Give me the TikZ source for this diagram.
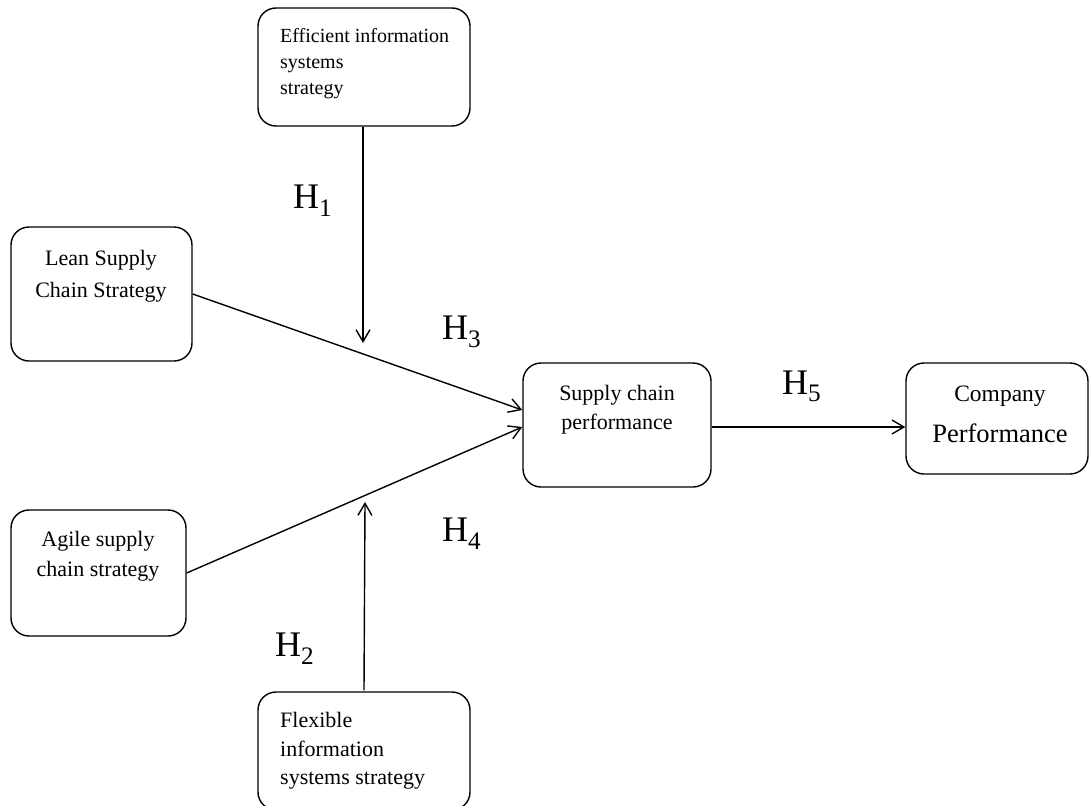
\documentclass[tikz,border=0pt]{standalone}
\usepackage{fontspec}
\setmainfont{Liberation Serif}
\usetikzlibrary{arrows.meta}
\begin{document}
\begin{tikzpicture}[x=1pt,y=-1pt,
  box/.style={draw, line width=1.4pt, rounded corners=18pt, minimum width=#1},
  txt/.style={inner sep=0pt, font=\fontsize{22}{30}\selectfont},
  hyp/.style={inner sep=0pt, anchor=base west, font=\fontsize{36}{40}\selectfont},
  link/.style={line width=1.4pt, -{Straight Barb[length=12pt,width=14pt,line width=1.4pt]}}
]
\useasboundingbox (0,0) rectangle (1090,806);
% boxes
\node[box=212pt, minimum height=118pt] (eff) at (364,67) {};
\node[box=181pt, minimum height=134pt] (lean) at (101.5,294) {};
\node[box=175pt, minimum height=126pt] (agile) at (98.5,573) {};
\node[box=212pt, minimum height=118pt] (flex) at (364,751) {};
\node[box=188pt, minimum height=124pt] (scp) at (617,425) {};
\node[box=182pt, minimum height=111pt] (comp) at (997,418.5) {};
% texts
\node[txt, anchor=west, align=left, font=\fontsize{20}{26}\selectfont] (teff) at (280,64) {Efficient information\\systems\\strategy};
\node[txt, align=center, font=\fontsize{22}{32}\selectfont] (tlean) at (101,276) {Lean Supply\\Chain Strategy};
\node[txt, align=center] (tagile) at (98,556) {Agile supply\\chain strategy};
\node[txt, anchor=west, align=left, font=\fontsize{22}{28.5}\selectfont] (tflex) at (280,751) {Flexible\\information\\systems strategy};
\node[txt, align=center, font=\fontsize{22}{29}\selectfont] (tscp) at (617,410) {Supply chain\\performance};
\node[txt, font=\fontsize{23.5}{28}\selectfont] (tcomp1) at (1000,396) {Company};
\node[txt, font=\fontsize{26.5}{30}\selectfont] (tcomp2) at (1000,433) {Performance};
% hypothesis labels
\node[hyp] (h1) at (293,208) {H\textsubscript{1}};
\node[hyp] (h3) at (442,339) {H\textsubscript{3}};
\node[hyp] (h5) at (782,394) {H\textsubscript{5}};
\node[hyp] (h4) at (442,541) {H\textsubscript{4}};
\node[hyp] (h2) at (275,656) {H\textsubscript{2}};
% free ends
\coordinate (e1) at (363,343);
\coordinate (e2) at (365,502);
% connectors
\draw[link] ([xshift=-1pt]eff.south) -- (e1);
\draw[link] ([yshift=1pt]flex.north) -- (e2);
\draw[link] (lean.east) -- ([yshift=15pt]scp.west);
\draw[link] (agile.east) -- ([yshift=-2pt]scp.west);
\draw[link] ([yshift=-2pt]scp.east) -- ([yshift=-2pt]scp.east -| comp.west);
\end{tikzpicture}
\end{document}
